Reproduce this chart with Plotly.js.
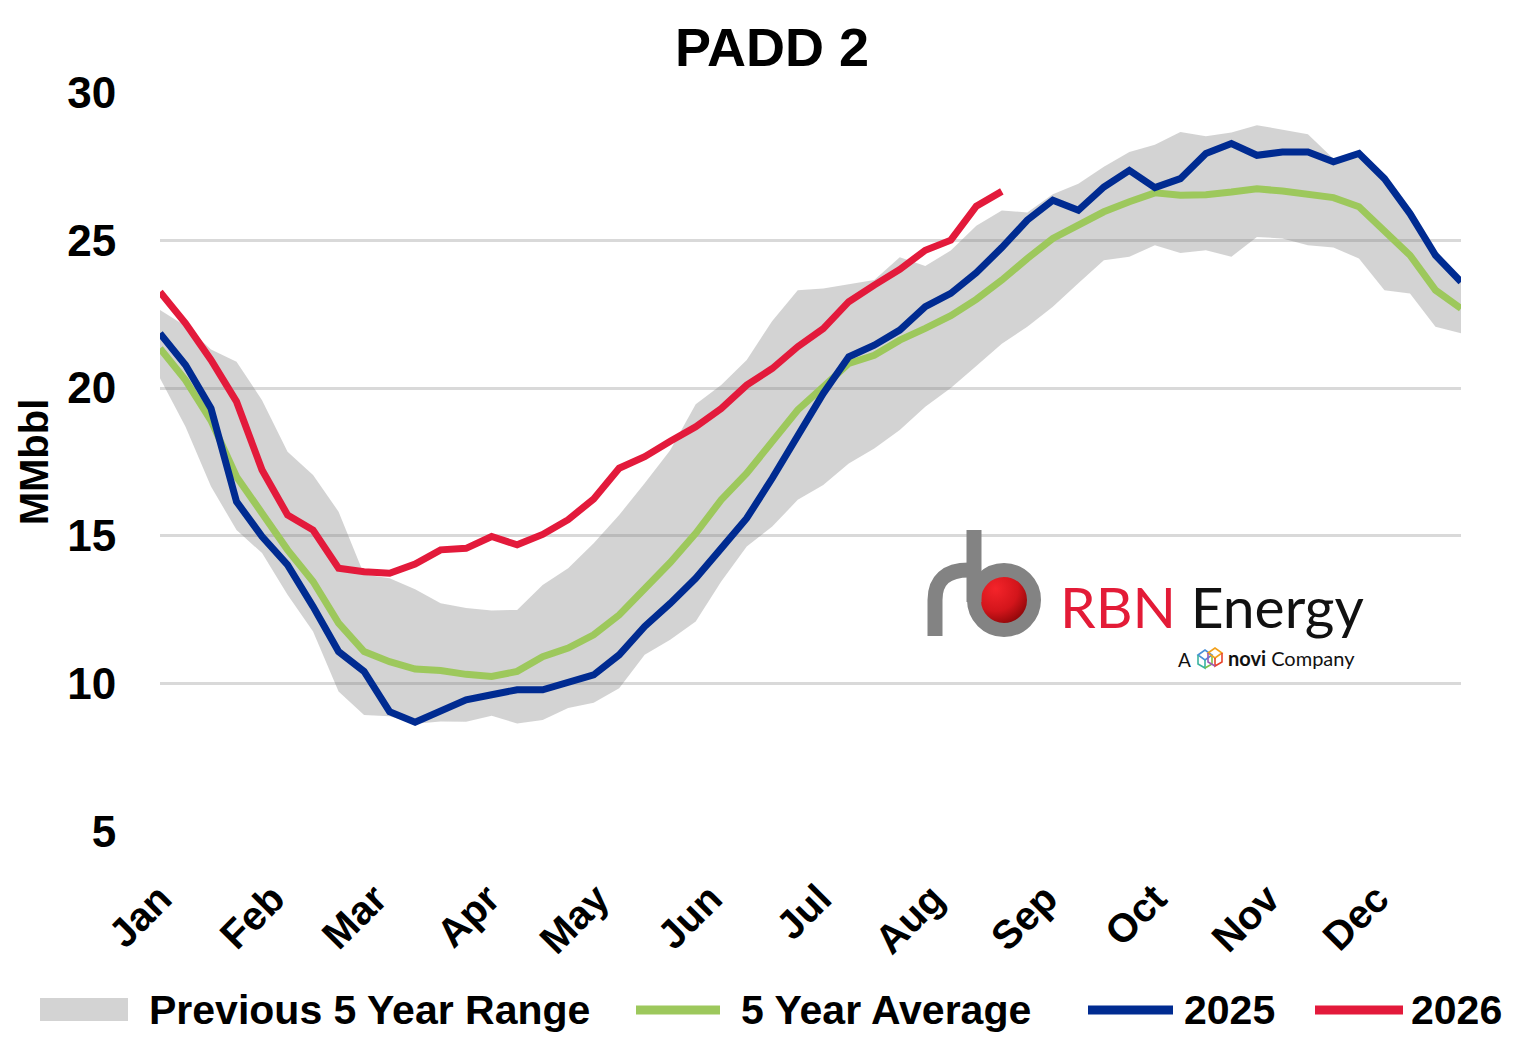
<!DOCTYPE html>
<html>
<head>
<meta charset="utf-8">
<script src="https://cdn.plot.ly/plotly-3.0.1.min.js"></script>
<style>
  html, body { margin: 0; padding: 0; background: #ffffff; }
  #chart { width: 1528px; height: 1056px; }
</style>
</head>
<body>
<div id="chart"></div>
<script>
// ---- Data (weekly, MMbbl) ----
const monthLabels = ['Jan','Feb','Mar','Apr','May','Jun','Jul','Aug','Sep','Oct','Nov','Dec'];
const monthStartDays = [0,31,59,90,120,151,181,212,243,273,304,334];

const rangeLow = [20.33,18.69,16.67,15.20,14.42,13.01,11.77,9.74,8.95,8.90,8.65,8.73,8.72,8.92,8.66,8.78,9.18,9.36,9.85,10.98,
  11.49,12.11,13.46,14.64,15.32,16.22,16.72,17.45,17.96,18.58,19.37,20.00,20.75,21.50,22.07,22.75,23.54,24.32,24.44,24.83,
  24.57,24.66,24.44,25.11,25.06,24.83,24.75,24.38,23.31,23.20,22.07,21.85];
const rangeHigh = [22.64,22.10,21.30,20.89,19.59,17.85,17.06,15.82,13.70,13.57,13.20,12.72,12.56,12.48,12.50,13.34,13.91,14.75,15.71,16.78,
  17.90,19.45,20.10,20.95,22.27,23.31,23.37,23.50,23.65,24.42,24.13,24.65,25.49,26.00,25.94,26.55,26.91,27.48,27.98,28.23,
  28.66,28.51,28.64,28.89,28.74,28.58,27.75,27.98,27.12,25.95,24.55,23.65];
const avg5yr = [21.34,20.27,18.90,17.00,15.77,14.53,13.46,12.05,11.09,10.75,10.50,10.45,10.32,10.25,10.42,10.92,11.21,11.66,12.33,13.23,
  14.10,15.09,16.22,17.12,18.19,19.26,20.04,20.83,21.11,21.62,22.02,22.45,23.00,23.65,24.38,25.06,25.51,25.96,26.30,26.60,
  26.52,26.54,26.63,26.74,26.66,26.52,26.44,26.13,25.28,24.49,23.31,22.69];
const y2025 = [21.85,20.78,19.31,16.16,14.98,14.02,12.61,11.09,10.42,9.06,8.70,9.06,9.46,9.63,9.80,9.80,10.08,10.30,10.98,11.94,
  12.72,13.57,14.58,15.60,16.95,18.36,19.82,21.06,21.45,21.96,22.75,23.20,23.90,24.75,25.68,26.35,26.01,26.80,27.36,26.78,
  27.08,27.93,28.27,27.87,27.98,27.98,27.65,27.93,27.08,25.90,24.49,23.59];
const y2026 = [23.25,22.19,20.95,19.54,17.23,15.71,15.20,13.91,13.79,13.74,14.05,14.53,14.58,14.98,14.70,15.05,15.55,16.25,17.29,17.68,
  18.20,18.69,19.31,20.10,20.66,21.40,22.01,22.92,23.48,24.01,24.66,25.00,26.15,26.65];

const weeks = rangeHigh.map((_, i) => i);
const weeks2026 = y2026.map((_, i) => i);
const monthTickVals = monthStartDays.map(d => d / 7);

// ---- Colors ----
const C_BAND = 'rgba(128,128,128,0.35)';
const C_AVG = '#9dc85c';
const C_2025 = '#002b91';
const C_2026 = '#e31a3b';

const traces = [
  { x: weeks, y: rangeLow, type: 'scatter', mode: 'lines', line: { width: 0, color: C_BAND },
    name: 'Previous 5 Year Range (low)', showlegend: false, hoverinfo: 'skip' },
  { x: weeks, y: rangeHigh, type: 'scatter', mode: 'lines', line: { width: 0, color: C_BAND },
    fill: 'tonexty', fillcolor: C_BAND, name: 'Previous 5 Year Range', showlegend: false },
  { x: weeks, y: avg5yr, type: 'scatter', mode: 'lines', line: { width: 7, color: C_AVG },
    name: '5 Year Average', showlegend: false },
  { x: weeks, y: y2025, type: 'scatter', mode: 'lines', line: { width: 7, color: C_2025 },
    name: '2025', showlegend: false },
  { x: weeks2026, y: y2026, type: 'scatter', mode: 'lines', line: { width: 7, color: C_2026 },
    name: '2026', showlegend: false }
];

// ---- helpers for pixel -> paper conversions (layout decoration only) ----
const W = 1528, H = 1056, ML = 160, MR = 67, MT = 92, MB = 224;
const PW = W - ML - MR, PH = H - MT - MB;
const px = X => (X - ML) / PW;
const py = Y => (H - MB - Y) / PH;

// ---- RBN logo graphic (svg data URI) ----
const logoSvg = `<svg xmlns="http://www.w3.org/2000/svg" viewBox="0 0 120 112" width="120" height="112">
<defs>
<radialGradient id="r" cx="0.35" cy="0.3" r="0.8"><stop offset="0" stop-color="#f4242a"/><stop offset="0.5" stop-color="#d3151b"/><stop offset="1" stop-color="#6e0000"/></radialGradient>
</defs>
<circle cx="79" cy="72" r="28" fill="url(#r)"/>
<path d="M10,108 L10,72 Q10,42 44,42" fill="none" stroke="#838383" stroke-width="15"/>
<circle cx="79" cy="72" r="30" fill="none" stroke="#838383" stroke-width="14"/>
<line x1="49" y1="2" x2="49" y2="74" stroke="#838383" stroke-width="15"/>
</svg>`;

const noviSvg = `<svg xmlns="http://www.w3.org/2000/svg" viewBox="0 0 30 24" width="30" height="24">
<g fill="none" stroke-width="1.6">
<path d="M3,9 L10,4 L17,9 L10,14 Z" stroke="#4a8fd6"/>
<path d="M3,9 L3,18 L10,22 L10,14" stroke="#3bb3a0"/>
<path d="M17,9 L17,18 L10,22" stroke="#7cc04a"/>
<path d="M13,7 L20,2 L27,7 L20,12 Z" stroke="#f2a01b"/>
<path d="M27,7 L27,16 L20,20 L20,12" stroke="#e8432b"/>
<path d="M13,7 L13,16 L20,20" stroke="#9b59b6"/>
</g></svg>`;

const svgURI = s => 'data:image/svg+xml;charset=utf-8,' + encodeURIComponent(s);

// ---- Custom legend (wide swatches like the original) ----
const legY = 1010;
const shapes = [
  { type: 'rect', xref: 'paper', yref: 'paper', x0: px(40), x1: px(128), y0: py(1021), y1: py(998),
    fillcolor: '#d3d3d3', line: { width: 0 } },
  { type: 'line', xref: 'paper', yref: 'paper', x0: px(636), x1: px(720), y0: py(legY), y1: py(legY),
    line: { color: C_AVG, width: 9 } },
  { type: 'line', xref: 'paper', yref: 'paper', x0: px(1088), x1: px(1173), y0: py(legY), y1: py(legY),
    line: { color: C_2025, width: 9 } },
  { type: 'line', xref: 'paper', yref: 'paper', x0: px(1315), x1: px(1403), y0: py(legY), y1: py(legY),
    line: { color: C_2026, width: 9 } }
];

const legFont = { family: 'Liberation Sans, Arial, sans-serif', size: 41, color: '#000000', weight: 700 };
const annotations = [
  { xref: 'paper', yref: 'paper', x: px(147), y: py(legY), xanchor: 'left', yanchor: 'middle',
    text: '<b>Previous 5 Year Range</b>', showarrow: false, font: legFont },
  { xref: 'paper', yref: 'paper', x: px(739), y: py(legY), xanchor: 'left', yanchor: 'middle',
    text: '<b>5 Year Average</b>', showarrow: false, font: legFont },
  { xref: 'paper', yref: 'paper', x: px(1182), y: py(legY), xanchor: 'left', yanchor: 'middle',
    text: '<b>2025</b>', showarrow: false, font: legFont },
  { xref: 'paper', yref: 'paper', x: px(1409), y: py(legY), xanchor: 'left', yanchor: 'middle',
    text: '<b>2026</b>', showarrow: false, font: legFont },
  // logo text
  { xref: 'paper', yref: 'paper', x: px(1058), y: py(606), xanchor: 'left', yanchor: 'middle',
    text: '<span style="color:#e31b37">RBN</span> Energy', showarrow: false,
    font: { family: 'Lato, Noto Sans, sans-serif', size: 57, color: '#111111', weight: 400 } },
  { xref: 'paper', yref: 'paper', x: px(1176), y: py(659), xanchor: 'left', yanchor: 'middle',
    text: 'A', showarrow: false,
    font: { family: 'Lato, Noto Sans, sans-serif', size: 19, color: '#111111' } },
  { xref: 'paper', yref: 'paper', x: px(1226), y: py(658), xanchor: 'left', yanchor: 'middle',
    text: '<b>novi</b> Company', showarrow: false,
    font: { family: 'Lato, Noto Sans, sans-serif', size: 20, color: '#111111' } }
];

const images = [
  { source: svgURI(logoSvg), xref: 'paper', yref: 'paper', x: px(925), y: py(528),
    sizex: 120 / PW, sizey: 112 / PH, xanchor: 'left', yanchor: 'top', sizing: 'stretch', layer: 'above' },
  { source: svgURI(noviSvg), xref: 'paper', yref: 'paper', x: px(1195), y: py(646),
    sizex: 30 / PW, sizey: 24 / PH, xanchor: 'left', yanchor: 'top', sizing: 'stretch', layer: 'above' }
];

const layout = {
  width: W, height: H,
  margin: { l: ML, r: MR, t: MT, b: MB, pad: 0 },
  paper_bgcolor: '#ffffff', plot_bgcolor: '#ffffff',
  showlegend: false,
  font: { family: 'Liberation Sans, Arial, sans-serif', color: '#000000' },
  title: { text: '<b>PADD 2</b>', x: 772 / W, xref: 'container', xanchor: 'center',
    y: 1 - 47 / H, yref: 'container', yanchor: 'middle',
    font: { family: 'Liberation Sans, Arial, sans-serif', size: 54, color: '#000000' } },
  xaxis: {
    range: [0, 51], showgrid: false, zeroline: false, showline: false,
    tickmode: 'array', tickvals: monthTickVals, ticktext: monthLabels.map(m => '<b>' + m + '</b>'),
    tickangle: -45, ticks: 'outside', ticklen: 26, tickcolor: 'rgba(0,0,0,0)',
    tickfont: { size: 40, color: '#000000' }, fixedrange: true
  },
  yaxis: {
    range: [4.99, 30.01], tickmode: 'array', tickvals: [5,10,15,20,25,30],
    ticktext: ['<b>5</b>','<b>10</b>','<b>15</b>','<b>20</b>','<b>25</b>','<b>30</b>'],
    showgrid: true, gridcolor: '#d9d9d9', gridwidth: 3, zeroline: false, showline: false,
    ticks: 'outside', ticklen: 34, tickcolor: 'rgba(0,0,0,0)',
    tickfont: { size: 44, color: '#000000' },
    title: { text: '<b>MMbbl</b>', standoff: 6, font: { size: 40, color: '#000000' } },
    fixedrange: true
  },
  shapes: shapes,
  annotations: annotations,
  images: images
};

Plotly.newPlot('chart', traces, layout, { displayModeBar: false, staticPlot: true });
</script>
</body>
</html>
